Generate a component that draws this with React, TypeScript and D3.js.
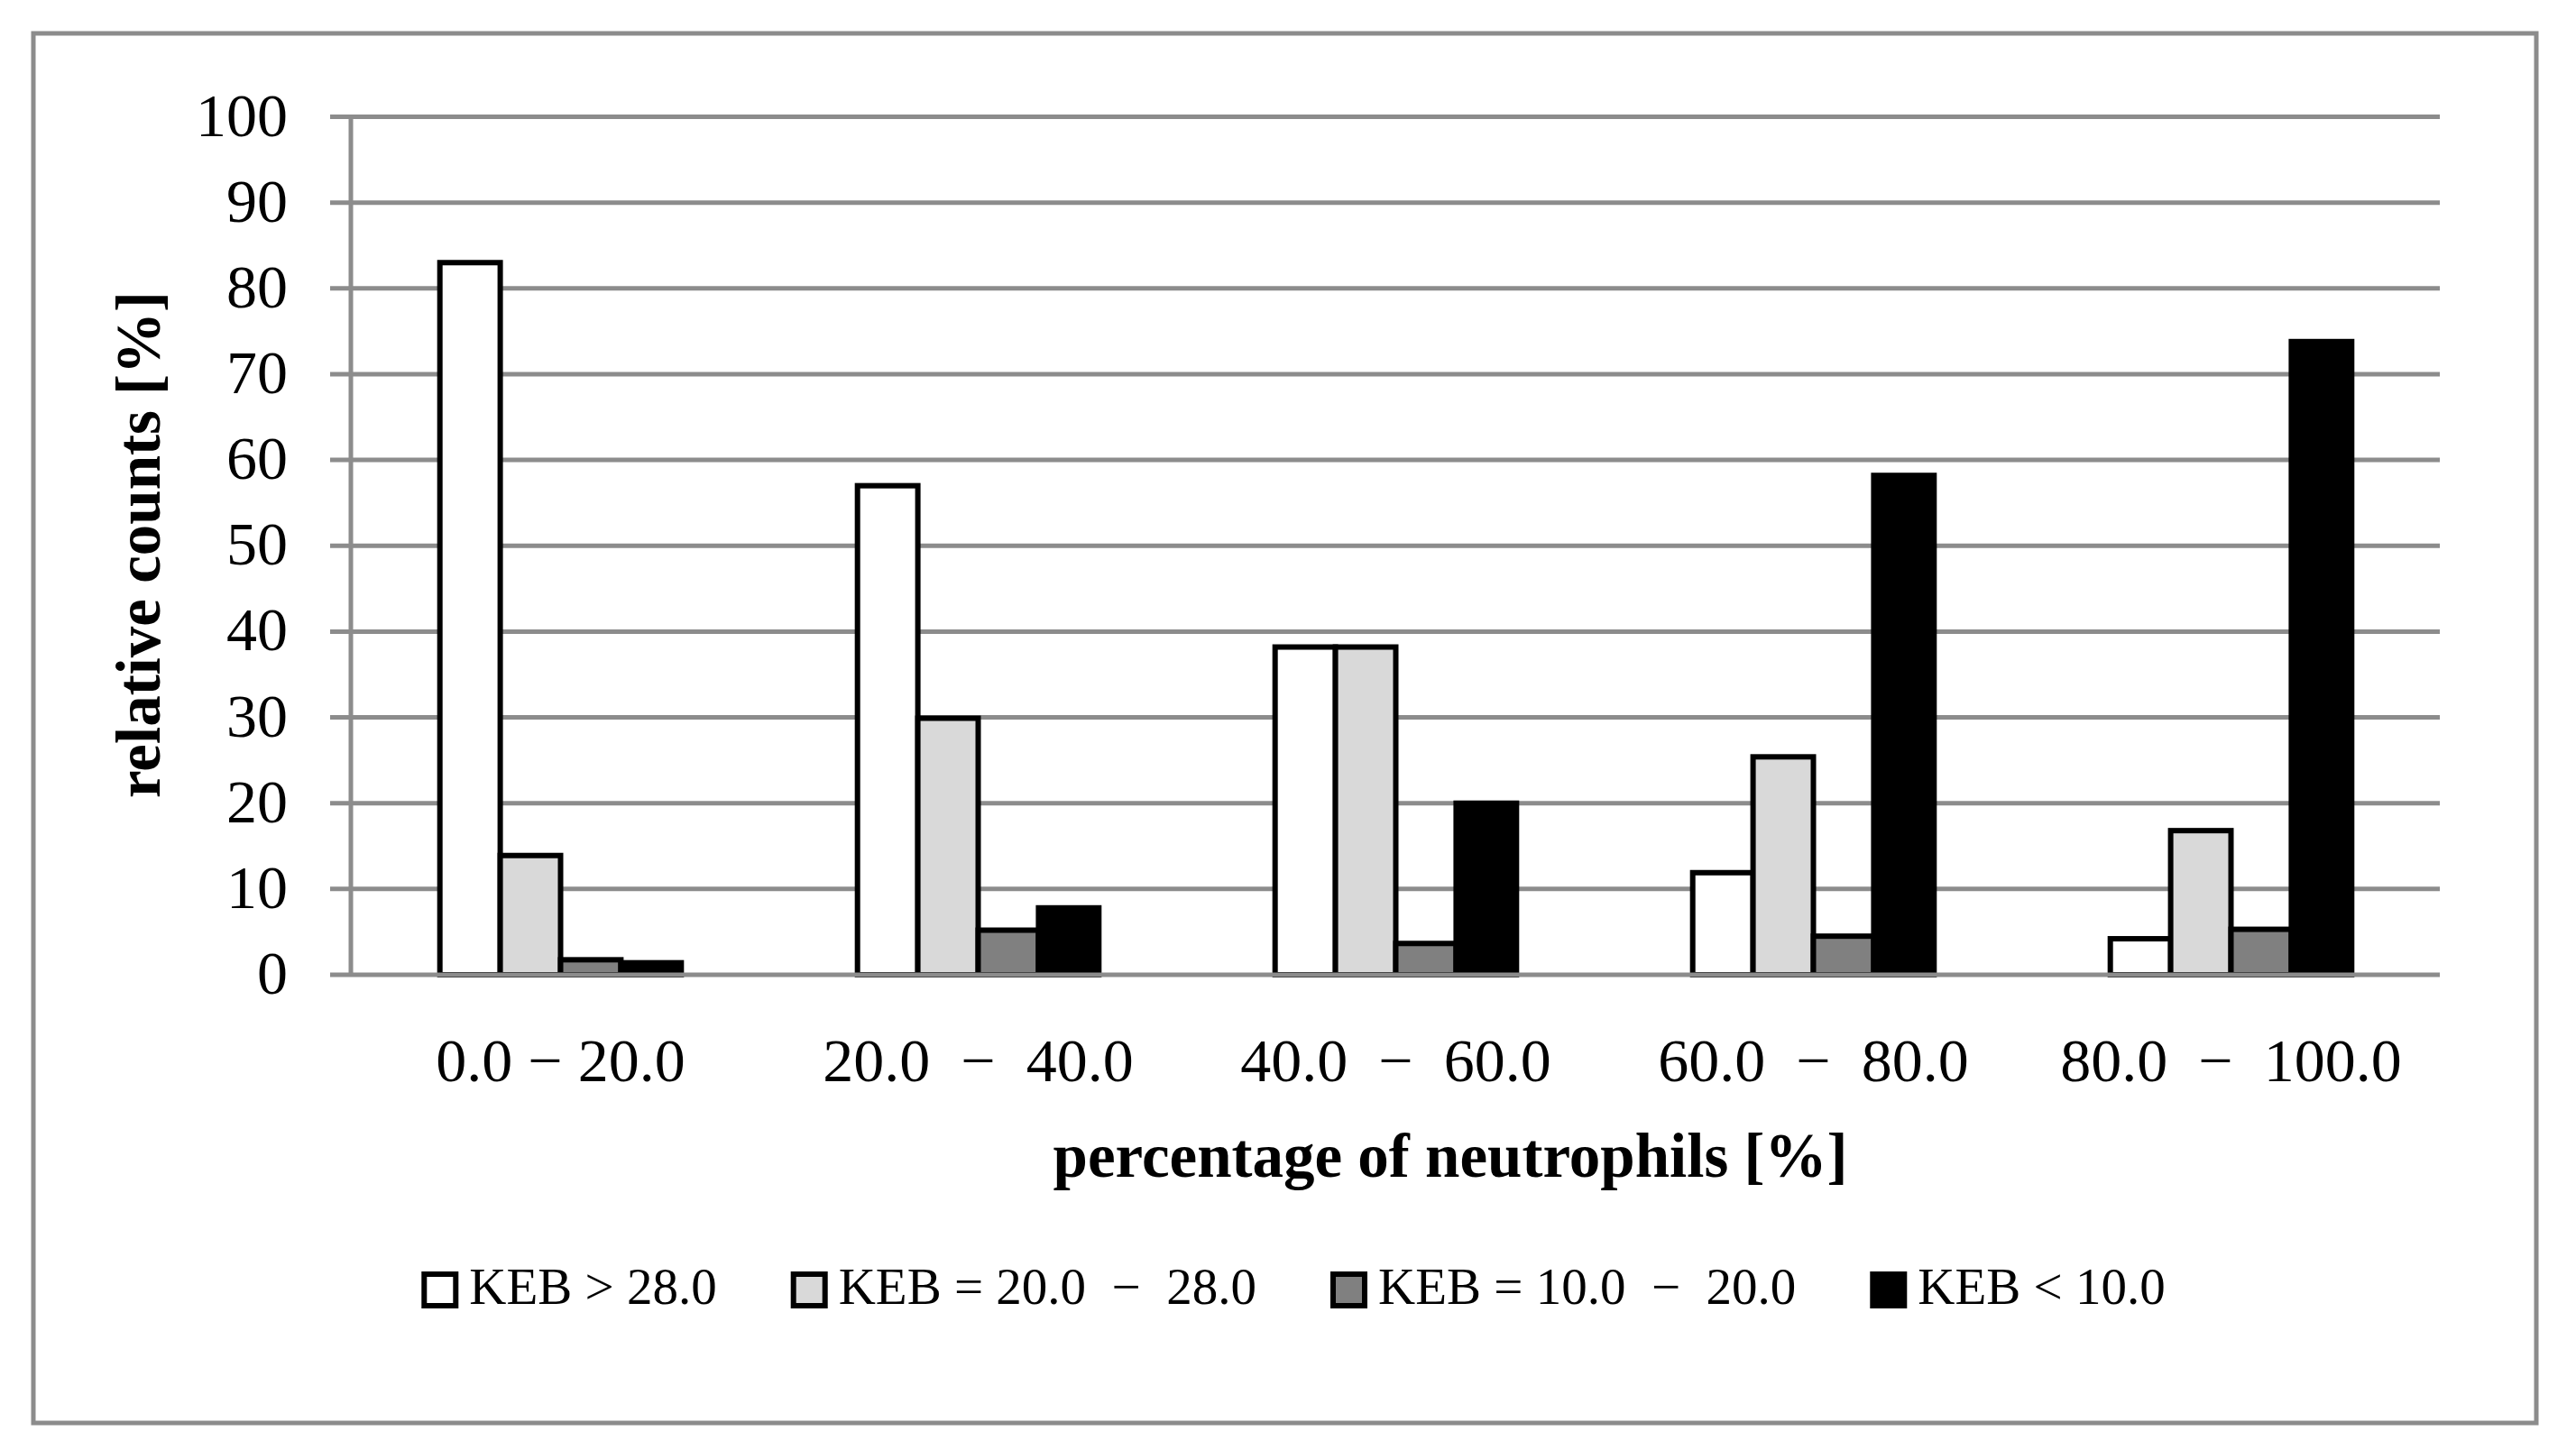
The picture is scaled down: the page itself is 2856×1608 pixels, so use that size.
import * as d3 from "d3";
import { useEffect, useRef } from "react";

const categories = ["0.0 − 20.0", "20.0\u00A0 −\u00A0 40.0", "40.0\u00A0 −\u00A0 60.0", "60.0\u00A0 −\u00A0 80.0", "80.0\u00A0 −\u00A0 100.0"];
const seriesNames = ["KEB > 28.0", "KEB = 20.0\u00A0 −\u00A0 28.0", "KEB = 10.0\u00A0 −\u00A0 20.0", "KEB < 10.0"];
const seriesColors = ["#ffffff", "#d9d9d9", "#808080", "#000000"];

// one array per series, in category order
const kebAbove28 = [83.0, 57.0, 38.2, 11.9, 4.2];
const keb20to28 = [13.9, 29.9, 38.2, 25.4, 16.8];
const keb10to20 = [1.75, 5.2, 3.65, 4.5, 5.3];
const kebBelow10 = [1.4, 7.8, 20.0, 58.2, 73.8];
const seriesValues = [kebAbove28, keb20to28, keb10to20, kebBelow10];

const yTicks = [0, 10, 20, 30, 40, 50, 60, 70, 80, 90, 100];

const xTitle = "percentage of neutrophils [%]";
const yTitle = "relative counts [%]";

const App = () => {
    const svgRef = useRef<SVGSVGElement | null>(null);

    const dimensions = { width: 2856, height: 1608 };
    const plot = { left: 390, right: 2705, top: 129.5, bottom: 1081 };
    const font = "'Liberation Serif', 'Times New Roman', serif";
    const gridColor = "#8c8c8c";

    useEffect(() => {
        const svg = d3.select(svgRef.current);
        svg.selectAll("*").remove();

        // outer frame
        svg.append("rect")
            .attr("x", 37)
            .attr("y", 37)
            .attr("width", 2812 - 37)
            .attr("height", 1578 - 37)
            .attr("fill", "#fff")
            .attr("stroke", gridColor)
            .attr("stroke-width", 5);

        // Scales
        const x0 = d3
            .scaleBand<string>()
            .domain(categories)
            .range([plot.left, plot.right])
            .paddingInner(0.422)
            .paddingOuter(0.211);

        const x1 = d3
            .scaleBand<number>()
            .domain(d3.range(seriesNames.length))
            .range([0, x0.bandwidth()]);

        const y = d3
            .scaleLinear()
            .domain([0, 100])
            .range([plot.bottom, plot.top]);

        // gridlines with tick stubs (zero line drawn later, over the bars)
        svg.append("g")
            .selectAll("line")
            .data(yTicks.filter((t) => t > 0))
            .join("line")
            .attr("x1", plot.left - 24)
            .attr("x2", plot.right)
            .attr("y1", (d) => y(d))
            .attr("y2", (d) => y(d))
            .attr("stroke", gridColor)
            .attr("stroke-width", 5);

        // bars
        const groups = svg
            .append("g")
            .selectAll("g")
            .data(categories)
            .join("g")
            .attr("transform", (d) => `translate(${x0(d)},0)`);

        groups
            .selectAll("rect")
            .data((_, i) => seriesValues.map((vals, s) => ({ s, v: vals[i] })))
            .join("rect")
            .attr("x", (d) => x1(d.s) as number)
            .attr("y", (d) => y(d.v))
            .attr("width", x1.bandwidth())
            .attr("height", (d) => y(0) - y(d.v))
            .attr("fill", (d) => seriesColors[d.s])
            .attr("stroke", "#000")
            .attr("stroke-width", 6);

        // zero line + y axis line
        svg.append("line")
            .attr("x1", plot.left - 24)
            .attr("x2", plot.right)
            .attr("y1", y(0))
            .attr("y2", y(0))
            .attr("stroke", gridColor)
            .attr("stroke-width", 5);

        svg.append("line")
            .attr("x1", plot.left - 1)
            .attr("x2", plot.left - 1)
            .attr("y1", y(100))
            .attr("y2", y(0))
            .attr("stroke", gridColor)
            .attr("stroke-width", 5);

        // y tick labels
        svg.append("g")
            .selectAll("text")
            .data(yTicks)
            .join("text")
            .attr("x", 319)
            .attr("y", (d) => y(d) + 21)
            .attr("text-anchor", "end")
            .attr("font-family", font)
            .attr("font-size", 68)
            .text((d) => d);

        // x category labels
        svg.append("g")
            .selectAll("text")
            .data(categories)
            .join("text")
            .attr("x", (d) => (x0(d) as number) + x0.bandwidth() / 2)
            .attr("y", 1199)
            .attr("text-anchor", "middle")
            .attr("font-family", font)
            .attr("font-size", 68)
            .text((d) => d);

        // axis titles
        svg.append("text")
            .attr("x", 1608)
            .attr("y", 1305)
            .attr("text-anchor", "middle")
            .attr("font-family", font)
            .attr("font-weight", "bold")
            .attr("font-size", 69)
            .text(xTitle);

        svg.append("text")
            .attr("transform", "translate(177,604) rotate(-90)")
            .attr("text-anchor", "middle")
            .attr("font-family", font)
            .attr("font-weight", "bold")
            .attr("font-size", 69)
            .text(yTitle);

        // legend, laid out from measured text widths and centred
        const legend = svg.append("g");
        const box = 35;
        const items = seriesNames.map((name, i) => {
            const g = legend.append("g");
            g.append("rect")
                .attr("x", 3)
                .attr("y", 1413)
                .attr("width", box)
                .attr("height", box)
                .attr("fill", seriesColors[i])
                .attr("stroke", "#000")
                .attr("stroke-width", 6);
            const t = g
                .append("text")
                .attr("x", box + 6 + 12)
                .attr("y", 1446)
                .attr("font-family", font)
                .attr("font-size", 57)
                .text(name);
            const w = (t.node() as SVGTextElement).getComputedTextLength();
            return { g, width: box + 6 + 12 + w };
        });
        const gap = 82;
        const total = d3.sum(items, (d) => d.width) + gap * (items.length - 1);
        let cursor = 1434 - total / 2;
        items.forEach((it) => {
            it.g.attr("transform", `translate(${cursor},0)`);
            cursor += it.width + gap;
        });
    }, []);

    return (
        <svg
            ref={svgRef}
            width={dimensions.width}
            height={dimensions.height}
            style={{ position: "absolute", left: 0, top: 0, background: "#fff" }}
        />
    );
};

export default App;
